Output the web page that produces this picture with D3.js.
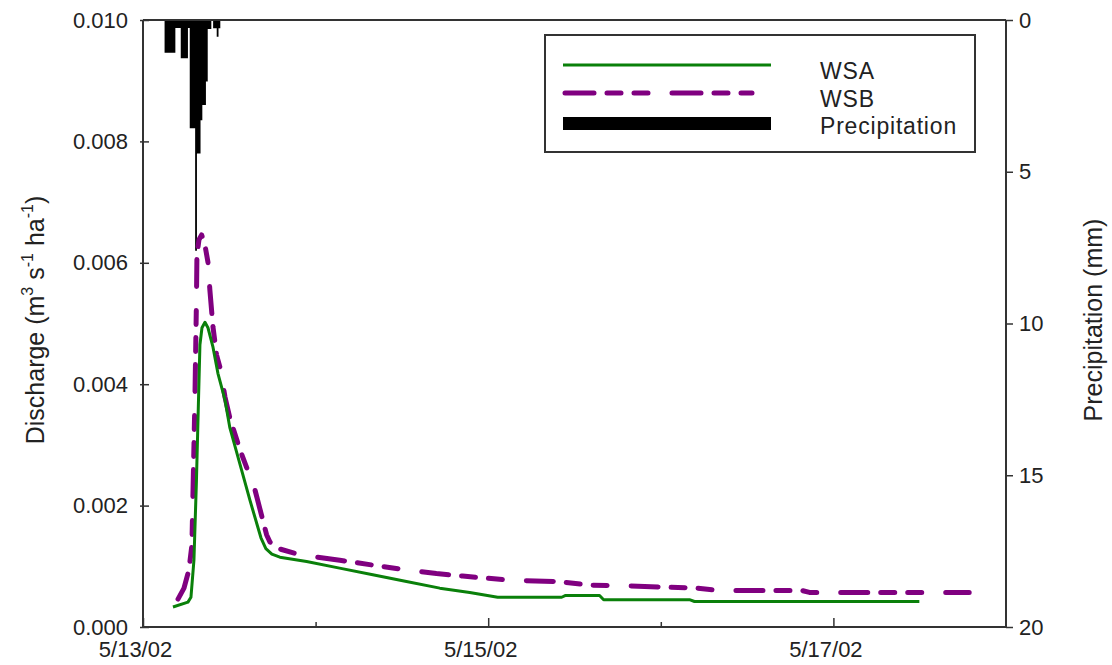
<!DOCTYPE html>
<html>
<head>
<meta charset="utf-8">
<script src="https://cdn.jsdelivr.net/npm/d3@7"></script>
<style>
  html, body { margin: 0; padding: 0; background: #fff; }
  svg { display: block; }
  text { font-family: "Liberation Sans", Arial, sans-serif; fill: #222; }
</style>
</head>
<body>
<svg id="chart" width="1112" height="665"></svg>
<script>
// Storm runoff from two watersheds, 13-18 May 2002, with rainfall hyetograph
const wsaTimes = ["2002-05-13 04:10","2002-05-13 06:15","2002-05-13 06:40","2002-05-13 07:05","2002-05-13 07:26",
  "2002-05-13 07:43","2002-05-13 07:55","2002-05-13 08:12","2002-05-13 08:37","2002-05-13 09:02","2002-05-13 09:44",
  "2002-05-13 10:25","2002-05-13 11:24","2002-05-13 12:05","2002-05-13 14:52","2002-05-13 16:24","2002-05-13 17:05",
  "2002-05-13 17:55","2002-05-13 19:02","2002-05-13 22:45","2002-05-14 03:20","2002-05-14 07:57","2002-05-14 12:38",
  "2002-05-14 17:16","2002-05-14 21:26","2002-05-15 01:19","2002-05-15 10:13","2002-05-15 10:46","2002-05-15 15:29",
  "2002-05-15 16:03","2002-05-16 03:59","2002-05-16 04:41","2002-05-17 11:57"];
const wsaValues = [0.00033,0.00041,0.00049,0.00110,0.00242,0.00374,0.00465,0.00493,0.00502,0.00493,0.00461,
  0.00418,0.00374,0.00328,0.00209,0.00147,0.00129,0.00120,0.00115,0.00108,0.00097,0.00086,0.00075,
  0.00064,0.00057,0.00049,0.00049,0.00052,0.00052,0.00045,0.00045,0.00042,0.00042];

const wsbTimes = ["2002-05-13 04:52","2002-05-13 05:42","2002-05-13 06:23","2002-05-13 06:48","2002-05-13 07:01",
  "2002-05-13 07:13","2002-05-13 07:26","2002-05-13 07:30","2002-05-13 07:47","2002-05-13 08:09","2002-05-13 08:37",
  "2002-05-13 09:02","2002-05-13 09:18","2002-05-13 09:44","2002-05-13 10:14","2002-05-13 10:42","2002-05-13 11:24",
  "2002-05-13 12:05","2002-05-13 13:29","2002-05-13 15:34","2002-05-13 17:11","2002-05-13 17:39","2002-05-13 18:35",
  "2002-05-13 21:49","2002-05-14 03:22","2002-05-14 07:57","2002-05-14 12:38","2002-05-14 16:48","2002-05-14 20:27",
  "2002-05-15 02:59","2002-05-15 09:28","2002-05-15 14:06","2002-05-15 18:41","2002-05-16 04:55","2002-05-16 08:10",
  "2002-05-16 19:41","2002-05-16 20:40","2002-05-17 18:53"];
const wsbValues = [0.00046,0.00064,0.00094,0.00135,0.00259,0.00374,0.00539,0.00613,0.00638,0.00646,0.00629,
  0.00601,0.00555,0.00494,0.00448,0.00428,0.00379,0.00344,0.00292,0.00226,0.00152,0.00140,0.00130,
  0.00119,0.00110,0.00102,0.00094,0.00088,0.00084,0.00077,0.00075,0.00069,0.00068,0.00064,0.00060,
  0.00060,0.00057,0.00057];

// 15-minute rainfall totals (mm) starting at the time below
const precipStart = "2002-05-13 03:00";
const precipStepMinutes = 15;
const precipValues = [1.08,1.08,1.08,1.08,1.08,1.08,0.26,0.26,0.26,1.26,1.26,1.26,1.26,0.26,
  3.57,3.57,3.57,7.6,4.4,4.4,3.3,2.8,2.8,2.03,0.3,0.3,0,0.27,0.27,0.55,0.27];

const xDomain = ["2002-05-13 00:00","2002-05-18 00:00"];
const xTickDates = ["2002-05-13 00:00","2002-05-14 00:00","2002-05-15 00:00","2002-05-16 00:00","2002-05-17 00:00"];
const xTickLabels = ["5/13/02","","5/15/02","","5/17/02"];
const yTicks = [0,0.002,0.004,0.006,0.008,0.010];
const pTicks = [0,5,10,15,20];
const legendLabels = ["WSA","WSB","Precipitation"];

const parse = d3.timeParse("%Y-%m-%d %H:%M");
const svg = d3.select("#chart");
const L = 143, R = 1006, T = 20, B = 627;

const x = d3.scaleTime().domain(xDomain.map(parse)).range([L, R]);
const y = d3.scaleLinear().domain([0, 0.010]).range([B, T]);
const yP = d3.scaleLinear().domain([0, 20]).range([T, B]);

const axisColor = "#333";

// precipitation hyetograph hanging from the top, drawn as one stepped area
const t0 = parse(precipStart);
const steps = precipValues.map((v, i) => ({ t: d3.timeMinute.offset(t0, i * precipStepMinutes), v }));
steps.push({ t: d3.timeMinute.offset(t0, precipValues.length * precipStepMinutes), v: 0 });
const hyeto = d3.area().curve(d3.curveStepAfter)
  .x(d => x(d.t)).y0(yP(0)).y1(d => yP(d.v));
svg.append("path").datum(steps).attr("d", hyeto).attr("fill", "#000");

// discharge lines
const wsa = wsaTimes.map((t, i) => ({ t: parse(t), v: wsaValues[i] }));
const wsb = wsbTimes.map((t, i) => ({ t: parse(t), v: wsbValues[i] }));
const line = d3.line().x(d => x(d.t)).y(d => y(d.v));

svg.append("path").datum(wsb).attr("d", line)
  .attr("fill", "none").attr("stroke", "#800080").attr("stroke-width", 5)
  .attr("stroke-linecap", "round").attr("stroke-linejoin", "round")
  .attr("stroke-dasharray", "27,13,14,13,14,24");
svg.append("path").datum(wsa).attr("d", line)
  .attr("fill", "none").attr("stroke", "#0a800a").attr("stroke-width", 3)
  .attr("stroke-linejoin", "round");

// frame
svg.append("line").attr("x1", L).attr("x2", R).attr("y1", T).attr("y2", T)
  .attr("stroke", axisColor).attr("stroke-width", 2);

// left axis
const gy = svg.append("g").attr("transform", `translate(${L},0)`)
  .call(d3.axisLeft(y).tickValues(yTicks).tickFormat(d3.format(".3f")).tickSize(-6).tickPadding(15));
gy.select(".domain").attr("stroke", axisColor).attr("stroke-width", 2).attr("d", `M0,${T}V${B}`);
gy.selectAll(".tick line").attr("stroke", axisColor).attr("stroke-width", 1.5).attr("x1", -3);
gy.selectAll(".tick text").style("font-size", "22px").attr("fill", "#222");

// bottom axis
const gx = svg.append("g").attr("transform", `translate(0,${B})`)
  .call(d3.axisBottom(x).tickValues(xTickDates.map(parse))
    .tickFormat((d, i) => xTickLabels[i]).tickSize(-9).tickPadding(12));
gx.select(".domain").attr("stroke", axisColor).attr("stroke-width", 2).attr("d", `M${L},0H${R}`);
gx.selectAll(".tick line").attr("stroke", axisColor).attr("stroke-width", 1.5)
  .attr("y2", (d, i) => xTickLabels[i] ? -9 : -5);
gx.selectAll(".tick text").style("font-size", "22px").attr("fill", "#222")
  .attr("dx", -8).attr("y", 14);

// right axis
const gp = svg.append("g").attr("transform", `translate(${R},0)`)
  .call(d3.axisRight(yP).tickValues(pTicks).tickSize(7).tickPadding(2));
gp.select(".domain").attr("stroke", axisColor).attr("stroke-width", 2).attr("d", `M0,${T}V${B}`);
gp.selectAll(".tick line").attr("stroke", axisColor).attr("stroke-width", 1.5);
gp.selectAll(".tick text").style("font-size", "22px").attr("fill", "#222").attr("dx", 4);

// axis titles
const leftTitle = svg.append("text")
  .attr("transform", "translate(44,320) rotate(-90)")
  .attr("text-anchor", "middle").style("font-size", "25px");
leftTitle.append("tspan").text("Discharge (m");
leftTitle.append("tspan").text("3").attr("dy", -11).style("font-size", "16px");
leftTitle.append("tspan").text(" s").attr("dy", 11);
leftTitle.append("tspan").text("-1").attr("dy", -11).style("font-size", "16px");
leftTitle.append("tspan").text(" ha").attr("dy", 11);
leftTitle.append("tspan").text("-1").attr("dy", -11).style("font-size", "16px");
leftTitle.append("tspan").text(")").attr("dy", 11);

svg.append("text")
  .attr("transform", "translate(1102,320) rotate(-90)")
  .attr("text-anchor", "middle").style("font-size", "25px")
  .text("Precipitation (mm)");

// legend
const lg = svg.append("g");
lg.append("rect").attr("x", 545).attr("y", 35).attr("width", 430).attr("height", 117)
  .attr("fill", "#fff").attr("stroke", axisColor).attr("stroke-width", 2);
lg.append("line").attr("x1", 563).attr("x2", 771).attr("y1", 65).attr("y2", 65)
  .attr("stroke", "#0a800a").attr("stroke-width", 3);
lg.append("line").attr("x1", 565).attr("x2", 752).attr("y1", 93).attr("y2", 93)
  .attr("stroke", "#800080").attr("stroke-width", 5).attr("stroke-linecap", "round")
  .attr("stroke-dasharray", "29,13,14,13,14,24");
lg.append("rect").attr("x", 563).attr("y", 117).attr("width", 208).attr("height", 13).attr("fill", "#000");
lg.selectAll("text.lab").data(legendLabels).join("text").attr("class", "lab")
  .attr("x", 820).attr("y", (d, i) => 79 + i * 27.5)
  .style("font-size", "23px").style("letter-spacing", "0.8px")
  .text(d => d);
</script>
</body>
</html>
